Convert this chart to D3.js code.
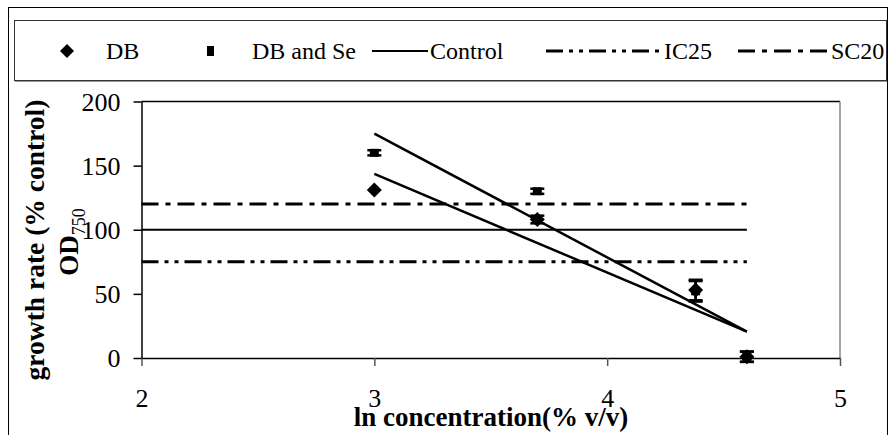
<!DOCTYPE html>
<html>
<head>
<meta charset="utf-8">
<script src="https://cdn.jsdelivr.net/npm/d3@7"></script>
<style>
  body { margin: 0; background: #fff; }
  svg { display: block; }
  svg text { font-family: "Liberation Serif", "Times New Roman", serif; }
</style>
</head>
<body>
<svg width="889" height="435"></svg>
<script>
// data
const concentrations = [3, 3.7, 4.38, 4.6];
const dbValues = [131, 108, 53, 1];
const dbErrors = [0, 3, 8, 4];
const dbSeValues = [160, 130, 52, 1];
const dbSeErrors = [2, 2, 8, 4];
const trendDbSe = [[3, 175], [4.6, 20.5]];
const trendDb = [[3, 143.5], [4.6, 20.5]];
const refLines = [
  { name: "Control", value: 100 },
  { name: "IC25", value: 75 },
  { name: "SC20", value: 120 }
];
const refRange = [2, 4.6];
const xTicks = [2, 3, 4, 5];
const yTicks = [0, 50, 100, 150, 200];

const serif = "Liberation Serif";
const dash = { Control: null, IC25: "17,6,4,6,4,6", SC20: "17,7,5,7" };
const lineW = { Control: 2, IC25: 3, SC20: 3 };

const svg = d3.select("svg");
const plot = { left: 141.5, right: 840, top: 101.5, bottom: 358 };

const x = d3.scaleLinear().domain([2, 5]).range([plot.left, plot.right]);
const y = d3.scaleLinear().domain([0, 200]).range([plot.bottom, plot.top]);

// outer frame
svg.append("rect")
  .attr("x", 8.5).attr("y", 7.5)
  .attr("width", 879).attr("height", 440)
  .attr("fill", "none").attr("stroke", "#000").attr("stroke-width", 1);

// legend box
svg.append("rect")
  .attr("x", 14.5).attr("y", 20.5)
  .attr("width", 872).attr("height", 60)
  .attr("fill", "#fff").attr("stroke", "#333").attr("stroke-width", 1);
svg.append("line")
  .attr("x1", 15).attr("x2", 887).attr("y1", 81.5).attr("y2", 81.5)
  .attr("stroke", "#999").attr("stroke-width", 1);

// plot area border (top + right)
svg.append("line")
  .attr("x1", plot.left).attr("x2", plot.right)
  .attr("y1", plot.top).attr("y2", plot.top)
  .attr("stroke", "#000").attr("stroke-width", 1.5);
svg.append("line")
  .attr("x1", plot.right).attr("x2", plot.right)
  .attr("y1", plot.top).attr("y2", plot.bottom)
  .attr("stroke", "#888").attr("stroke-width", 1.5);

// axes
const xAxis = d3.axisBottom(x).tickValues(xTicks).tickFormat(d3.format("d")).tickSize(8).tickSizeOuter(0);
const yAxis = d3.axisLeft(y).tickValues(yTicks).tickSize(8).tickSizeOuter(0);

const gx = svg.append("g")
  .attr("transform", "translate(0," + plot.bottom + ")")
  .call(xAxis)
  .attr("font-family", serif);
gx.select(".domain").attr("stroke", "#000").attr("stroke-width", 1.5);
gx.selectAll(".tick line").attr("stroke", "#555").attr("stroke-width", 1.5);
gx.selectAll(".tick text")
  .attr("font-family", serif).attr("font-size", 26)
  .attr("fill", "#000").attr("dy", 0).attr("y", 49);

const gy = svg.append("g")
  .attr("transform", "translate(" + plot.left + ",0)")
  .call(yAxis)
  .attr("font-family", serif);
gy.select(".domain").attr("stroke", "#000").attr("stroke-width", 1.5);
gy.selectAll(".tick line").attr("stroke", "#000").attr("stroke-width", 1.5);
gy.selectAll(".tick text")
  .attr("font-family", serif).attr("font-size", 26)
  .attr("fill", "#000").attr("x", -21).attr("dy", "0.33em");

// reference lines
svg.append("g").selectAll("line")
  .data(refLines)
  .enter()
  .append("line")
  .attr("x1", x(refRange[0])).attr("x2", x(refRange[1]))
  .attr("y1", d => y(d.value)).attr("y2", d => y(d.value))
  .attr("stroke", "#000")
  .attr("stroke-width", d => lineW[d.name])
  .attr("stroke-dasharray", d => dash[d.name]);

// trend lines
const line = d3.line().x(d => x(d[0])).y(d => y(d[1]));
[trendDbSe, trendDb].forEach(t => {
  svg.append("path")
    .attr("d", line(t))
    .attr("fill", "none")
    .attr("stroke", "#000")
    .attr("stroke-width", 2.5);
});

// error bars
function errorBars(values, errors) {
  const g = svg.append("g").attr("stroke", "#000").attr("stroke-width", 2.5);
  concentrations.forEach((c, i) => {
    if (!errors[i]) return;
    const cx = x(c), y1 = y(values[i] - errors[i]), y2 = y(values[i] + errors[i]);
    g.append("line").attr("x1", cx).attr("x2", cx).attr("y1", y1).attr("y2", y2);
    g.append("line").attr("x1", cx - 7).attr("x2", cx + 7).attr("y1", y1).attr("y2", y1);
    g.append("line").attr("x1", cx - 7).attr("x2", cx + 7).attr("y1", y2).attr("y2", y2);
  });
}
errorBars(dbSeValues, dbSeErrors);
errorBars(dbValues, dbErrors);

const diamond = s => "M0," + (-s) + "L" + s + ",0L0," + s + "L" + (-s) + ",0Z";

svg.append("g").selectAll("rect")
  .data(concentrations)
  .enter()
  .append("rect")
  .attr("x", d => x(d) - 4.5)
  .attr("y", (d, i) => y(dbSeValues[i]) - 4)
  .attr("width", 9).attr("height", 8)
  .attr("fill", "#000");

svg.append("g").selectAll("path")
  .data(concentrations)
  .enter()
  .append("path")
  .attr("d", diamond(7.5))
  .attr("transform", (d, i) => "translate(" + x(d) + "," + y(dbValues[i]) + ")")
  .attr("fill", "#000");

// axis titles
svg.append("text")
  .attr("x", 491).attr("y", 426)
  .attr("text-anchor", "middle")
  .attr("font-family", serif)
  .attr("font-size", 27).attr("font-weight", "bold")
  .text("ln concentration(% v/v)");

svg.append("text")
  .attr("transform", "translate(44,240) rotate(-90)")
  .attr("text-anchor", "middle")
  .attr("font-family", serif)
  .attr("font-size", 27.5).attr("font-weight", "bold")
  .text("growth rate (% control)");

const od = svg.append("text")
  .attr("transform", "translate(78,242) rotate(-90)")
  .attr("text-anchor", "middle")
  .attr("font-family", serif)
  .attr("font-size", 27).attr("font-weight", "bold");
od.append("tspan").text("OD");
od.append("tspan").attr("font-size", 18).attr("font-weight", "normal").attr("dy", 7).text("750");

// legend
const ly = 51;
const legend = svg.append("g").attr("font-family", serif).attr("font-size", 24);
legend.append("path").attr("d", diamond(7)).attr("transform", "translate(67," + ly + ")").attr("fill", "#000");
legend.append("text").attr("x", 106).attr("y", ly + 8).text("DB");
legend.append("rect").attr("x", 207).attr("y", ly - 5).attr("width", 7).attr("height", 10).attr("fill", "#000");
legend.append("text").attr("x", 252).attr("y", ly + 8).text("DB and Se");

const legendLines = [
  { name: "Control", x1: 372, x2: 428, tx: 430 },
  { name: "IC25", x1: 546, x2: 660, tx: 664 },
  { name: "SC20", x1: 738, x2: 828, tx: 831 }
];
legendLines.forEach(l => {
  legend.append("line")
    .attr("x1", l.x1).attr("x2", l.x2).attr("y1", ly).attr("y2", ly)
    .attr("stroke", "#000").attr("stroke-width", l.name === "Control" ? 2 : 3)
    .attr("stroke-dasharray", dash[l.name]);
  legend.append("text").attr("x", l.tx).attr("y", ly + 8).text(l.name);
});
</script>
</body>
</html>
